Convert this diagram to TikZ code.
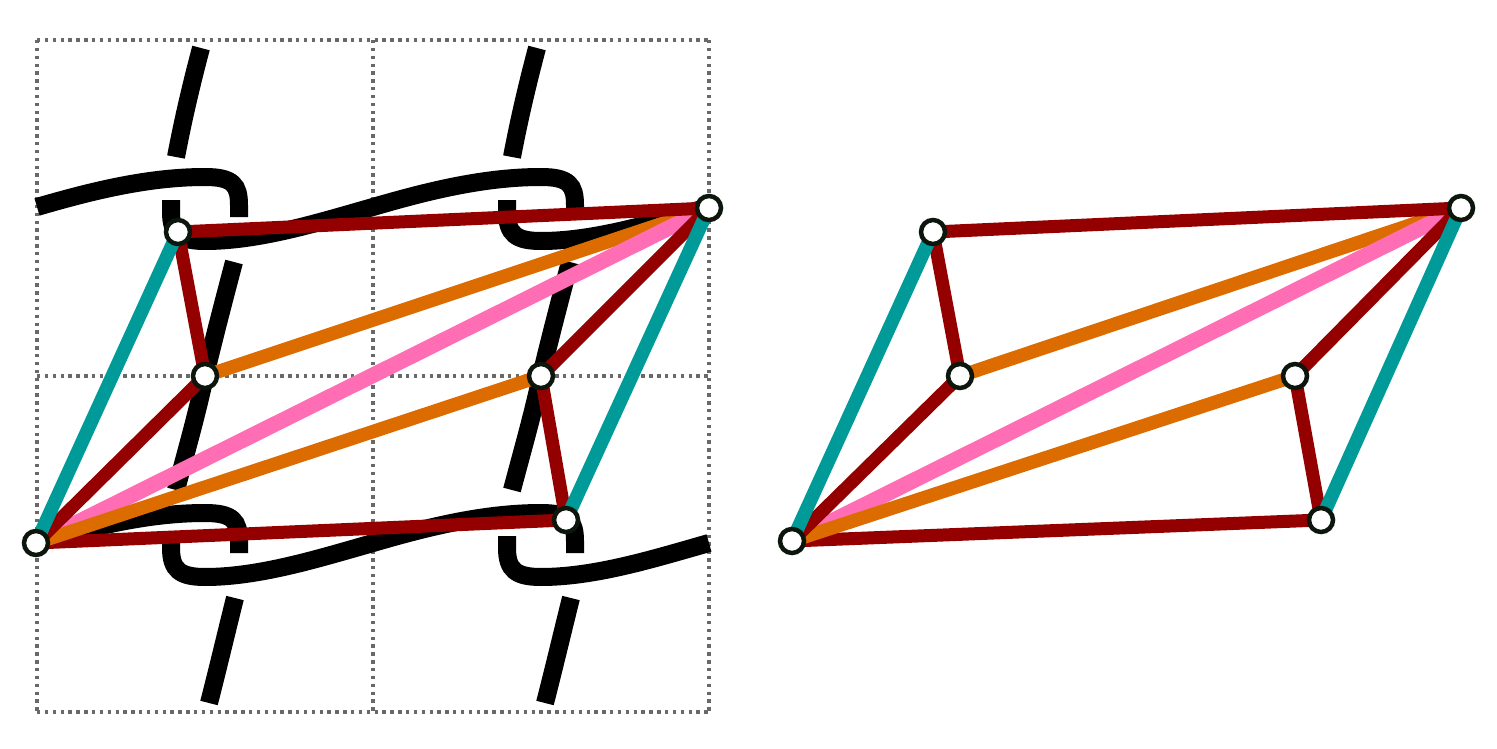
\documentclass[tikz,border=0pt]{standalone}
\usetikzlibrary{backgrounds}
\definecolor{kred}{RGB}{148,0,0}
\definecolor{kteal}{RGB}{0,155,152}
\definecolor{korange}{RGB}{220,108,0}
\definecolor{kpink}{RGB}{255,110,180}
\definecolor{kgrid}{RGB}{105,105,105}
\definecolor{kring}{RGB}{12,22,12}
\tikzset{
  knot/.style={line width=18pt, black, line cap=butt},
  gridline/.style={kgrid, line width=3.3pt, dash pattern=on 3.4pt off 4.45pt},
  vtx/.style={circle, draw=kring, fill=white, line width=4.5pt, minimum size=24pt, inner sep=0pt},
  redE/.style={kred, line width=13pt},
  tealE/.style={kteal, line width=13.5pt},
  orangeE/.style={korange, line width=13.5pt},
  pinkE/.style={kpink, line width=15.5pt}
}
\begin{document}
\begin{tikzpicture}[x=1pt,y=-1pt]
\useasboundingbox (0,0) rectangle (1497,749);
% vertices, left panel
\node[vtx] (p1) at (178,232) {};
\node[vtx] (p2) at (205,376) {};
\node[vtx] (p3) at (36,543) {};
\node[vtx] (p4) at (709,208) {};
\node[vtx] (p5) at (541,376) {};
\node[vtx] (p6) at (566,520) {};
% vertices, right panel
\node[vtx] (q1) at (933,232) {};
\node[vtx] (q2) at (960,376) {};
\node[vtx] (q3) at (792,541) {};
\node[vtx] (q4) at (1461,208) {};
\node[vtx] (q5) at (1295,376) {};
\node[vtx] (q6) at (1321,520) {};
\begin{scope}[on background layer]
  % grid
  \foreach \g in {40,376,712} {\draw[gridline] (37,\g) -- (709,\g);}
  \foreach \g in {37,373,709} {\draw[gridline] (\g,40) -- (\g,712);}
  % knot: horizontal strands with hooks
  \foreach \dy in {0,336} {
    \begin{scope}[shift={(0,\dy)}]
      \draw[knot] (37,207) .. controls (95,190) and (150,177) .. (205,177)
        .. controls (233,177) and (239,185) .. (239,205) -- (239,217);
      \draw[knot] (171,200) -- (171,212) .. controls (171,234) and (180,241) .. (205,241)
        .. controls (260,241) and (320,222) .. (373,207)
        .. controls (431,190) and (486,177) .. (541,177)
        .. controls (569,177) and (575,185) .. (575,205) -- (575,217);
      \draw[knot] (507,200) -- (507,212) .. controls (507,234) and (516,241) .. (541,241)
        .. controls (596,241) and (656,222) .. (709,207);
    \end{scope}
  }
  % knot: vertical pieces
  \foreach \dx in {0,336} {
    \begin{scope}[shift={(\dx,0)}]
      \draw[knot] (201,48) .. controls (191,86) and (183,120) .. (176,157);
      \draw[knot] (234,262) .. controls (225,296) and (214,338) .. (205,376)
        .. controls (197,414) and (186,452) .. (176,490);
      \draw[knot] (235,598) .. controls (226,634) and (218,668) .. (209,703);
    \end{scope}
  }
  % edges
  \foreach \p in {p,q} {
    \draw[orangeE] (\p2.center) -- (\p4.center);
    \draw[redE] (\p3.center) -- (\p6.center);
    \draw[pinkE] (\p3.center) -- (\p4.center);
    \draw[orangeE] (\p3.center) -- (\p5.center);
    \draw[redE] (\p1.center) -- (\p4.center);
    \draw[redE] (\p4.center) -- (\p5.center);
    \draw[redE] (\p1.center) -- (\p2.center);
    \draw[redE] (\p2.center) -- (\p3.center);
    \draw[redE] (\p5.center) -- (\p6.center);
    \draw[tealE] (\p1.center) -- (\p3.center);
    \draw[tealE] (\p4.center) -- (\p6.center);
  }
\end{scope}
\end{tikzpicture}
\end{document}
